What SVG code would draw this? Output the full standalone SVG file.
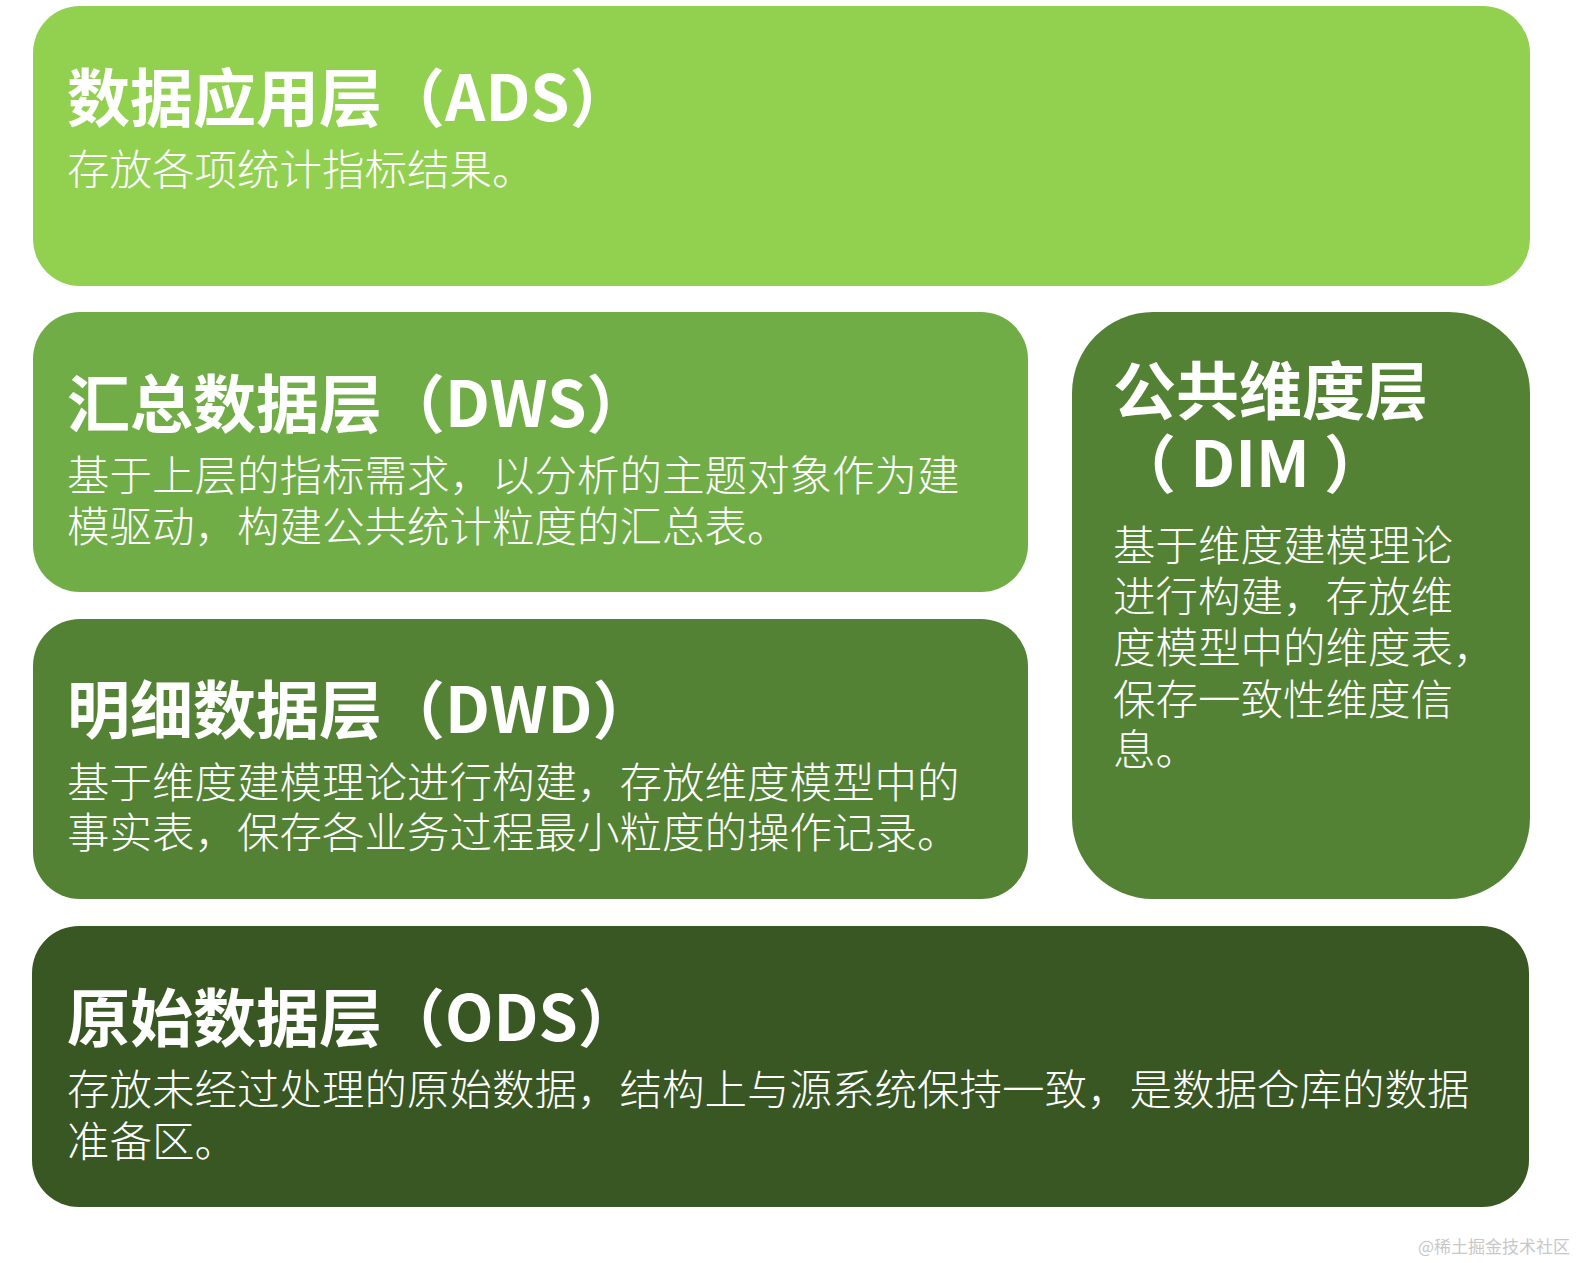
<svg xmlns="http://www.w3.org/2000/svg" width="1583" height="1263" viewBox="0 0 1583 1263">
<style>
.t{font-family:"Noto Sans CJK SC","Noto Sans",sans-serif;font-weight:700;font-size:63px;fill:#ffffff}
.b{font-family:"Noto Sans CJK SC","Noto Sans",sans-serif;font-weight:300;font-size:42.5px;fill:#ffffff}
.wm{font-family:"Noto Sans CJK SC","Noto Sans",sans-serif;font-size:17px;fill:#c8c8c8}
</style>
<rect width="1583" height="1263" fill="#ffffff"/>
<g id="ads">
<rect x="33" y="6" width="1497" height="280" rx="47" fill="#92d050"/>
<text class="t" x="67" y="121">数据应用层（ADS）</text>
<text class="b" x="67" y="185">存放各项统计指标结果。</text>
</g>
<g id="dws">
<rect x="33" y="312" width="995" height="280" rx="47" fill="#70ad47"/>
<text class="t" x="67" y="427">汇总数据层（DWS）</text>
<text class="b" x="67" y="491">基于上层的指标需求，以分析的主题对象作为建</text>
<text class="b" x="67" y="542">模驱动，构建公共统计粒度的汇总表。</text>
</g>
<g id="dwd">
<rect x="33" y="619" width="995" height="280" rx="47" fill="#548235"/>
<text class="t" x="67" y="733">明细数据层（DWD）</text>
<text class="b" x="67" y="798">基于维度建模理论进行构建，存放维度模型中的</text>
<text class="b" x="67" y="848">事实表，保存各业务过程最小粒度的操作记录。</text>
</g>
<g id="dim">
<rect x="1072" y="312" width="458" height="587" rx="81" fill="#548235"/>
<text class="t" x="1113" y="414">公共维度层</text>
<text class="t" x="1113" y="487">（ DIM ）</text>
<text class="b" x="1113" y="561">基于维度建模理论</text>
<text class="b" x="1113" y="612">进行构建，存放维</text>
<text class="b" x="1113" y="663">度模型中的维度表，</text>
<text class="b" x="1113" y="715">保存一致性维度信</text>
<text class="b" x="1113" y="765">息。</text>
</g>
<g id="ods">
<rect x="32" y="926" width="1497" height="281" rx="47" fill="#385723"/>
<text class="t" x="67" y="1041">原始数据层（ODS）</text>
<text class="b" x="67" y="1105">存放未经过处理的原始数据，结构上与源系统保持一致，是数据仓库的数据</text>
<text class="b" x="67" y="1157">准备区。</text>
</g>
<g id="connectors"></g>
<text class="wm" x="1418" y="1253">@稀土掘金技术社区</text>
</svg>
